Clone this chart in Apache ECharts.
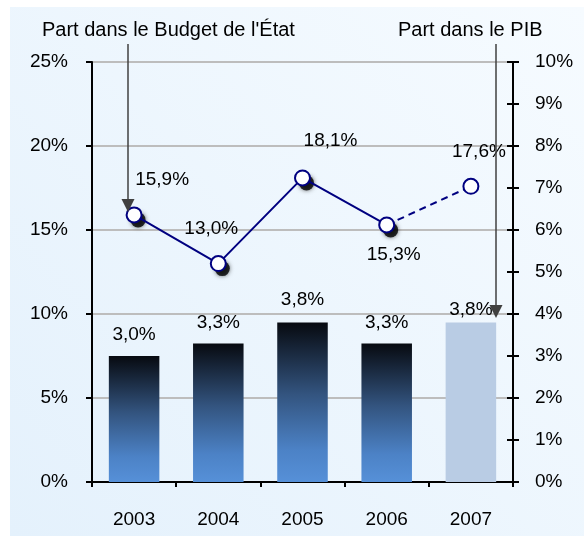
<!DOCTYPE html>
<html>
<head>
<meta charset="utf-8">
<script src="https://cdn.jsdelivr.net/npm/echarts@6/dist/echarts.min.js"></script>
<style>
  html, body { margin: 0; padding: 0; background: #fff; }
  #chart { width: 584px; height: 536px; }
</style>
</head>
<body>
<div id="chart"></div>
<script>
// data
const years = ['2003', '2004', '2005', '2006', '2007']
const budgetShare = [15.9, 13.0, 18.1, 15.3, 17.6]   // % du budget de l'État (axe gauche)
const gdpShare = [3.0, 3.3, 3.8, 3.3, 3.8]           // % du PIB (axe droit)
const estimateIndex = 4                              // 2007 = prévision

const fmt = v => v.toFixed(1).replace('.', ',') + '%'
const FONT = 'Liberation Sans, Arial, sans-serif'
const FS = 19

// label placement for the line points
const lineLabelPos = [
  { position: 'top', offset: [28, -12] },
  { position: 'top', offset: [-7, -12] },
  { position: 'top', offset: [28, -14] },
  { position: 'bottom', offset: [7, 7] },
  { position: 'top', offset: [8, -12] }
]
const barLabelDist = [12, 11, 13, 11, 3]

const barGradient = new echarts.graphic.LinearGradient(0, 0, 0, 1, [
  { offset: 0, color: '#070a10' },
  { offset: 0.45, color: '#33547f' },
  { offset: 0.8, color: '#4c82c6' },
  { offset: 1, color: '#5690d8' }
])

const solidLine = budgetShare.map((v, i) => i < estimateIndex ? v : null)
const dashedLine = budgetShare.map((v, i) => i >= estimateIndex - 1 ? v : null)
const shadows = budgetShare.map((v, i) => i < estimateIndex ? v : null)

const chart = echarts.init(document.getElementById('chart'))
chart.setOption({
  animation: false,
  backgroundColor: 'transparent',
  textStyle: { fontFamily: FONT },
  graphic: [
    {
      type: 'rect', z: -10, silent: true,
      shape: { x: 10, y: 7, width: 574, height: 529 },
      style: {
        fill: new echarts.graphic.LinearGradient(0, 1, 1, 0, [
          { offset: 0, color: '#e4f1fc' },
          { offset: 1, color: '#f6fbff' }
        ])
      }
    },
    {
      type: 'text', left: 42, top: 20, z: 50,
      style: { text: "Part dans le Budget de l'État", font: '20px ' + FONT, fill: '#000' }
    },
    {
      type: 'text', left: 398, top: 20, z: 50,
      style: { text: 'Part dans le PIB', font: '20px ' + FONT, fill: '#000' }
    },
    {
      type: 'line', z: 50,
      shape: { x1: 128, y1: 44, x2: 128, y2: 204 },
      style: { stroke: '#404040', lineWidth: 1.5 }
    },
    {
      type: 'polygon', z: 50,
      shape: { points: [[121.5, 199], [128, 212], [134.5, 199]] },
      style: { fill: '#404040' }
    },
    {
      type: 'line', z: 50,
      shape: { x1: 496, y1: 44, x2: 496, y2: 310 },
      style: { stroke: '#404040', lineWidth: 1.5 }
    },
    {
      type: 'polygon', z: 50,
      shape: { points: [[489.5, 305], [496, 318], [502.5, 305]] },
      style: { fill: '#404040' }
    }
  ],
  grid: { left: 92, right: 71, top: 62, bottom: 54 },
  xAxis: {
    type: 'category',
    data: years,
    axisLine: { lineStyle: { color: '#000', width: 2 } },
    axisTick: { show: true, length: 5, lineStyle: { color: '#000', width: 2 } },
    axisLabel: { color: '#000', fontSize: FS, margin: 28 }
  },
  yAxis: [
    {
      type: 'value', min: 0, max: 25, interval: 5,
      axisLine: { show: true, lineStyle: { color: '#000', width: 2 } },
      axisTick: { show: true, length: 6, lineStyle: { color: '#000', width: 2 } },
      axisLabel: { color: '#000', fontSize: FS, margin: 24, formatter: '{value}%' },
      splitLine: { lineStyle: { color: '#bdbdbd', width: 2 } }
    },
    {
      type: 'value', min: 0, max: 10, interval: 1, position: 'right',
      axisLine: { show: true, lineStyle: { color: '#000', width: 2 } },
      axisTick: { show: true, length: 6, lineStyle: { color: '#000', width: 2 } },
      axisLabel: { color: '#000', fontSize: FS, margin: 22, formatter: '{value}%' },
      splitLine: { show: false }
    },
    {
      // inner half of the crossing ticks on the right axis
      type: 'value', min: 0, max: 10, interval: 1, position: 'right',
      axisLine: { show: false },
      axisTick: { show: true, inside: true, length: 6, lineStyle: { color: '#000', width: 2 } },
      axisLabel: { show: false },
      splitLine: { show: false }
    }
  ],
  series: [
    {
      type: 'bar',
      yAxisIndex: 1,
      barWidth: '60%',
      data: gdpShare.map((v, i) => ({
        value: v,
        itemStyle: { color: i === estimateIndex ? '#b9cce4' : barGradient },
        label: { distance: barLabelDist[i] }
      })),
      label: {
        show: true, position: 'top', color: '#000', fontSize: FS,
        formatter: p => fmt(p.value)
      }
    },
    {
      type: 'scatter',
      yAxisIndex: 0,
      data: shadows,
      symbol: 'circle',
      symbolSize: 15,
      symbolOffset: [4, 5],
      itemStyle: { color: '#000', shadowColor: 'rgba(0,0,0,0.7)', shadowBlur: 4 },
      z: 3
    },
    {
      type: 'line',
      yAxisIndex: 0,
      data: dashedLine,
      showSymbol: false,
      symbol: 'none',
      lineStyle: { color: '#000080', width: 2, type: [7, 5] },
      z: 4
    },
    {
      type: 'line',
      yAxisIndex: 0,
      data: solidLine,
      symbol: 'none',
      lineStyle: { color: '#000080', width: 2 },
      z: 4
    },
    {
      // markers + labels for every year
      type: 'line',
      yAxisIndex: 0,
      data: budgetShare.map((v, i) => ({ value: v, label: lineLabelPos[i] })),
      lineStyle: { width: 0, opacity: 0 },
      symbol: 'circle',
      symbolSize: 15,
      itemStyle: { color: '#fff', borderColor: '#000080', borderWidth: 2 },
      label: {
        show: true, color: '#000', fontSize: FS,
        formatter: p => fmt(p.value)
      },
      z: 5
    }
  ]
})
</script>
</body>
</html>
